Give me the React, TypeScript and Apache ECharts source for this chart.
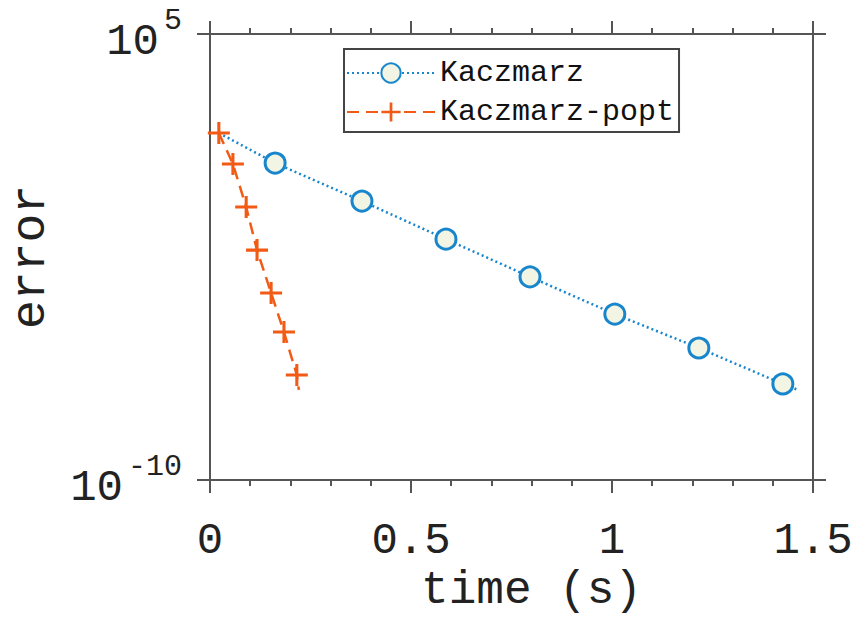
import React, { useEffect, useRef } from "react";
import * as echarts from "echarts";

const kaczTime = [0.022, 0.162, 0.378, 0.587, 0.796, 1.007, 1.216, 1.425, 1.463];
const kaczError = [46.8, 4.57, 0.24, 0.0126, 6.8e-4, 3.8e-5, 2.75e-6, 1.7e-7, 1.07e-7];
const kaczMarked = [false, true, true, true, true, true, true, true, false];

const poptTime = [0.022, 0.057, 0.09, 0.117, 0.152, 0.184, 0.216, 0.221];
const poptError = [46.8, 4.27, 0.151, 5.4e-3, 1.95e-4, 9.5e-6, 3.4e-7, 1.07e-7];
const poptMarked = [true, true, true, true, true, true, true, false];

const xTicks = [0, 0.5, 1, 1.5];
const yTicks = [1e-10, 1e5];
const seriesNames = ["Kaczmarz", "Kaczmarz-popt"];

const FONT = "'Liberation Mono', 'DejaVu Sans Mono', monospace";
const BLUE = "#1786cc";
const ORANGE = "#f25b16";
const AXIS = "#555555";
const PLUS = "path://M4.3,0H5.7V4.3H10V5.7H5.7V10H4.3V5.7H0V4.3H4.3Z";

function build(t: number[], e: number[], m: boolean[]) {
  return t.map((x, i) => (m[i] ? { value: [x, e[i]] } : { value: [x, e[i]], symbol: "none" }));
}

export default function App() {
  const ref = useRef<HTMLDivElement>(null);
  useEffect(() => {
    if (!ref.current) return;
    const chart = echarts.init(ref.current, undefined, { renderer: "svg" });
    const tickStyle = { show: true, inside: false, length: 13, lineStyle: { color: AXIS, width: 2 } };
    const minor = { show: true, splitNumber: 5, length: 6, lineStyle: { color: AXIS, width: 2 } };
    const yLabelFmt = (v: number) => {
      const ex = Math.round(Math.log10(v));
      return `{b|10}{s|${ex}}`;
    };
    chart.setOption({
      animation: false,
      backgroundColor: "#ffffff",
      grid: {
        left: 210,
        top: 34,
        right: 52,
        bottom: 137,
        containLabel: false,
        outerBoundsMode: "none",
      },
      legend: {
        orient: "vertical",
        left: 344,
        top: 49,
        data: seriesNames,
        itemWidth: 88,
        itemHeight: 24,
        itemGap: 9,
        padding: [9, 5, 5, 2],
        borderColor: "#444444",
        borderWidth: 2,
        textStyle: { fontFamily: FONT, fontSize: 30, color: "#111111", lineHeight: 30 },
      },
      xAxis: [
        {
          type: "value",
          position: "bottom",
          min: 0,
          max: 1.5,
          interval: 0.5,
          name: "time (s)",
          nameLocation: "middle",
          nameGap: 86,
          nameTextStyle: {
            fontFamily: FONT,
            fontSize: 46,
            lineHeight: 46,
            color: "#222222",
            padding: [0, 0, 0, 40],
          },
          axisLine: { show: true, onZero: false, lineStyle: { color: AXIS, width: 2 } },
          axisTick: tickStyle,
          minorTick: minor,
          splitLine: { show: false },
          axisLabel: {
            margin: 39,
            fontFamily: FONT,
            fontSize: 44,
            color: "#222222",
            customValues: xTicks,
            formatter: (v: number) => String(v),
          },
        },
        {
          type: "value",
          position: "top",
          min: 0,
          max: 1.5,
          interval: 0.5,
          axisLine: { show: true, onZero: false, lineStyle: { color: AXIS, width: 2 } },
          axisTick: tickStyle,
          minorTick: minor,
          splitLine: { show: false },
          axisLabel: { show: false },
        },
      ],
      yAxis: [
        {
          type: "log",
          logBase: 10,
          position: "left",
          min: 1e-10,
          max: 1e5,
          name: "error",
          nameLocation: "middle",
          nameGap: 155,
          nameTextStyle: { fontFamily: FONT, fontSize: 48, color: "#222222" },
          axisLine: { show: true, onZero: false, lineStyle: { color: AXIS, width: 2 } },
          axisTick: { ...tickStyle, customValues: yTicks },
          splitLine: { show: false },
          axisLabel: {
            margin: 28,
            customValues: yTicks,
            formatter: yLabelFmt,
            rich: {
              b: {
                fontFamily: FONT,
                fontSize: 44,
                color: "#222222",
                verticalAlign: "bottom",
                height: 44,
                lineHeight: 60,
                padding: [0, 5, 0, 0],
              },
              s: {
                fontFamily: FONT,
                fontSize: 30,
                color: "#222222",
                verticalAlign: "top",
                height: 34,
                lineHeight: 34,
              },
            },
          },
        },
        {
          type: "log",
          logBase: 10,
          position: "right",
          min: 1e-10,
          max: 1e5,
          axisLine: { show: true, onZero: false, lineStyle: { color: AXIS, width: 2 } },
          axisTick: { ...tickStyle, customValues: yTicks },
          splitLine: { show: false },
          axisLabel: { show: false },
        },
      ],
      series: [
        {
          name: seriesNames[0],
          type: "line",
          data: build(kaczTime, kaczError, kaczMarked),
          symbol: "circle",
          symbolSize: 20,
          showAllSymbol: true,
          lineStyle: { color: BLUE, width: 2.5, type: [2, 3] },
          itemStyle: { color: "#f2f5e3", borderColor: BLUE, borderWidth: 3 },
          z: 3,
        },
        {
          name: seriesNames[1],
          type: "line",
          data: build(poptTime, poptError, poptMarked),
          symbol: PLUS,
          symbolSize: 22,
          showAllSymbol: true,
          lineStyle: { color: ORANGE, width: 2.5, type: [12, 7] },
          itemStyle: { color: ORANGE, borderWidth: 0 },
          z: 4,
        },
      ],
    });
    return () => chart.dispose();
  }, []);
  return (
    <div
      ref={ref}
      style={{ position: "fixed", left: 0, top: 0, width: 865, height: 617, background: "#fff" }}
    />
  );
}
